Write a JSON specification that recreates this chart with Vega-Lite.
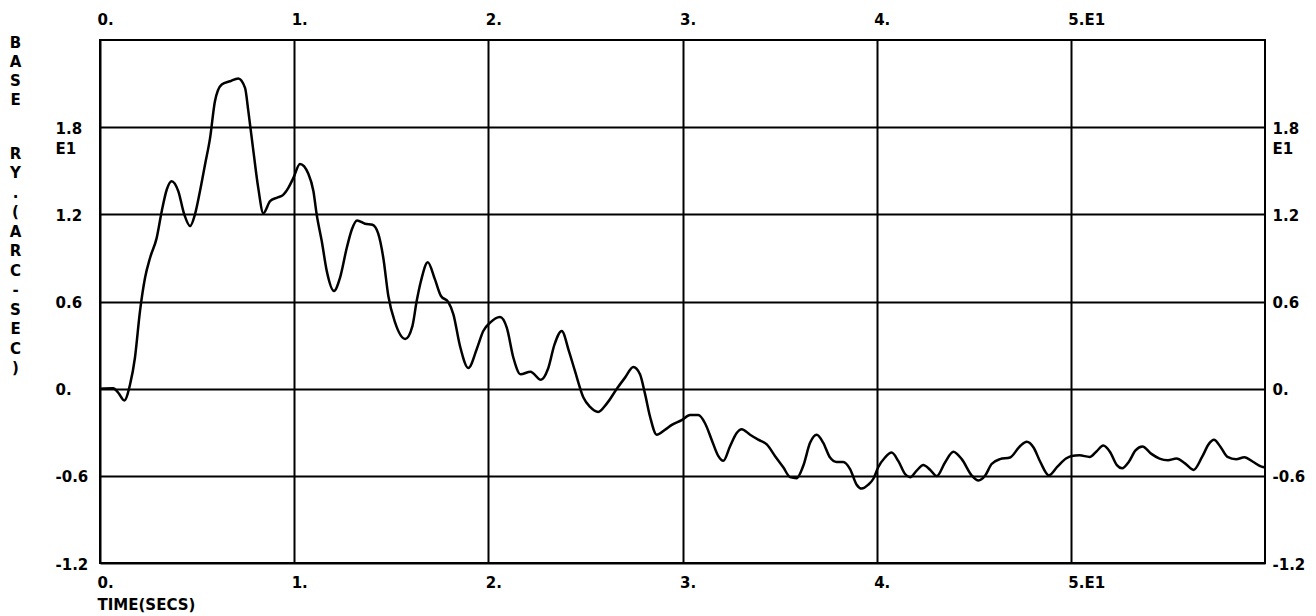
{
  "$schema": "https://vega.github.io/schema/vega-lite/v6.json",
  "width": 1165,
  "height": 523,
  "autosize": {"type": "none"},
  "padding": {"left": 100, "top": 40, "right": 51, "bottom": 53},
  "background": "white",
  "config": {
    "view": {"stroke": "black", "strokeWidth": 2},
    "font": "DejaVu Sans",
    "axis": {
      "labelFont": "DejaVu Sans",
      "labelFontWeight": "bold",
      "labelFontSize": 15,
      "labelColor": "black",
      "titleFont": "DejaVu Sans",
      "titleFontWeight": "bold",
      "titleFontSize": 15,
      "titleColor": "black",
      "domain": false,
      "ticks": false,
      "gridColor": "black",
      "gridOpacity": 1,
      "gridWidth": 2
    }
  },
  "data": {
    "values": [
      {"t": 0.0, "ry": 0.0},
      {"t": 0.068, "ry": 0.003},
      {"t": 0.094, "ry": -0.028},
      {"t": 0.125, "ry": -0.081},
      {"t": 0.155, "ry": 0.03},
      {"t": 0.18, "ry": 0.213},
      {"t": 0.206, "ry": 0.534},
      {"t": 0.232, "ry": 0.763},
      {"t": 0.258, "ry": 0.901},
      {"t": 0.292, "ry": 1.038},
      {"t": 0.318, "ry": 1.222},
      {"t": 0.344, "ry": 1.371},
      {"t": 0.369, "ry": 1.428},
      {"t": 0.403, "ry": 1.36},
      {"t": 0.434, "ry": 1.199},
      {"t": 0.464, "ry": 1.119},
      {"t": 0.489, "ry": 1.199},
      {"t": 0.515, "ry": 1.36},
      {"t": 0.541, "ry": 1.543},
      {"t": 0.567, "ry": 1.726},
      {"t": 0.592, "ry": 1.979},
      {"t": 0.627, "ry": 2.094},
      {"t": 0.67, "ry": 2.116},
      {"t": 0.712, "ry": 2.135},
      {"t": 0.747, "ry": 2.07},
      {"t": 0.764, "ry": 1.91},
      {"t": 0.79, "ry": 1.635},
      {"t": 0.815, "ry": 1.382},
      {"t": 0.841, "ry": 1.208},
      {"t": 0.876, "ry": 1.291},
      {"t": 0.91, "ry": 1.314},
      {"t": 0.942, "ry": 1.332},
      {"t": 0.97, "ry": 1.382},
      {"t": 0.996, "ry": 1.451},
      {"t": 1.03, "ry": 1.547},
      {"t": 1.073, "ry": 1.48},
      {"t": 1.099, "ry": 1.36},
      {"t": 1.116, "ry": 1.199},
      {"t": 1.142, "ry": 1.016},
      {"t": 1.168, "ry": 0.809},
      {"t": 1.205, "ry": 0.672},
      {"t": 1.236, "ry": 0.763},
      {"t": 1.271, "ry": 0.97},
      {"t": 1.297, "ry": 1.096},
      {"t": 1.324, "ry": 1.158},
      {"t": 1.365, "ry": 1.135},
      {"t": 1.403, "ry": 1.128},
      {"t": 1.433, "ry": 1.067},
      {"t": 1.459, "ry": 0.901},
      {"t": 1.485, "ry": 0.638},
      {"t": 1.52, "ry": 0.454},
      {"t": 1.572, "ry": 0.342},
      {"t": 1.609, "ry": 0.431},
      {"t": 1.631, "ry": 0.603},
      {"t": 1.653, "ry": 0.741},
      {"t": 1.688, "ry": 0.871},
      {"t": 1.725, "ry": 0.752},
      {"t": 1.756, "ry": 0.638},
      {"t": 1.794, "ry": 0.596},
      {"t": 1.82, "ry": 0.512},
      {"t": 1.854, "ry": 0.294},
      {"t": 1.897, "ry": 0.142},
      {"t": 1.94, "ry": 0.271},
      {"t": 1.974, "ry": 0.397},
      {"t": 2.009, "ry": 0.454},
      {"t": 2.06, "ry": 0.493},
      {"t": 2.095, "ry": 0.42},
      {"t": 2.129, "ry": 0.213},
      {"t": 2.166, "ry": 0.099},
      {"t": 2.217, "ry": 0.117},
      {"t": 2.271, "ry": 0.061},
      {"t": 2.307, "ry": 0.135},
      {"t": 2.341, "ry": 0.305},
      {"t": 2.378, "ry": 0.397},
      {"t": 2.415, "ry": 0.259},
      {"t": 2.446, "ry": 0.122},
      {"t": 2.489, "ry": -0.059},
      {"t": 2.524, "ry": -0.126},
      {"t": 2.566, "ry": -0.16},
      {"t": 2.61, "ry": -0.103},
      {"t": 2.661, "ry": -0.002},
      {"t": 2.704, "ry": 0.076},
      {"t": 2.747, "ry": 0.149},
      {"t": 2.781, "ry": 0.099},
      {"t": 2.807, "ry": -0.036},
      {"t": 2.833, "ry": -0.193},
      {"t": 2.867, "ry": -0.317},
      {"t": 2.91, "ry": -0.283},
      {"t": 2.945, "ry": -0.249},
      {"t": 2.996, "ry": -0.216},
      {"t": 3.039, "ry": -0.182},
      {"t": 3.081, "ry": -0.182},
      {"t": 3.116, "ry": -0.238},
      {"t": 3.15, "ry": -0.351},
      {"t": 3.184, "ry": -0.463},
      {"t": 3.21, "ry": -0.497},
      {"t": 3.245, "ry": -0.396},
      {"t": 3.279, "ry": -0.305},
      {"t": 3.305, "ry": -0.279},
      {"t": 3.348, "ry": -0.317},
      {"t": 3.39, "ry": -0.351},
      {"t": 3.434, "ry": -0.384},
      {"t": 3.476, "ry": -0.463},
      {"t": 3.519, "ry": -0.541},
      {"t": 3.554, "ry": -0.609},
      {"t": 3.588, "ry": -0.616},
      {"t": 3.622, "ry": -0.531},
      {"t": 3.657, "ry": -0.373},
      {"t": 3.691, "ry": -0.317},
      {"t": 3.725, "ry": -0.373},
      {"t": 3.76, "ry": -0.474},
      {"t": 3.794, "ry": -0.504},
      {"t": 3.828, "ry": -0.504},
      {"t": 3.863, "ry": -0.553},
      {"t": 3.897, "ry": -0.661},
      {"t": 3.923, "ry": -0.688},
      {"t": 3.957, "ry": -0.661},
      {"t": 3.983, "ry": -0.62},
      {"t": 4.008, "ry": -0.541},
      {"t": 4.043, "ry": -0.474},
      {"t": 4.077, "ry": -0.44},
      {"t": 4.111, "ry": -0.497},
      {"t": 4.146, "ry": -0.587},
      {"t": 4.172, "ry": -0.609},
      {"t": 4.206, "ry": -0.564},
      {"t": 4.24, "ry": -0.526},
      {"t": 4.275, "ry": -0.558},
      {"t": 4.309, "ry": -0.602},
      {"t": 4.352, "ry": -0.508},
      {"t": 4.395, "ry": -0.434},
      {"t": 4.438, "ry": -0.485},
      {"t": 4.49, "ry": -0.598},
      {"t": 4.524, "ry": -0.632},
      {"t": 4.559, "ry": -0.598},
      {"t": 4.592, "ry": -0.519},
      {"t": 4.635, "ry": -0.485},
      {"t": 4.687, "ry": -0.474},
      {"t": 4.738, "ry": -0.396},
      {"t": 4.773, "ry": -0.366},
      {"t": 4.808, "ry": -0.405},
      {"t": 4.843, "ry": -0.505},
      {"t": 4.887, "ry": -0.597},
      {"t": 4.931, "ry": -0.537},
      {"t": 4.975, "ry": -0.481},
      {"t": 5.004, "ry": -0.463},
      {"t": 5.045, "ry": -0.459},
      {"t": 5.097, "ry": -0.47},
      {"t": 5.132, "ry": -0.432},
      {"t": 5.167, "ry": -0.392},
      {"t": 5.202, "ry": -0.436},
      {"t": 5.237, "ry": -0.526},
      {"t": 5.264, "ry": -0.548},
      {"t": 5.299, "ry": -0.503},
      {"t": 5.333, "ry": -0.425},
      {"t": 5.369, "ry": -0.398},
      {"t": 5.413, "ry": -0.447},
      {"t": 5.457, "ry": -0.481},
      {"t": 5.5, "ry": -0.492},
      {"t": 5.544, "ry": -0.481},
      {"t": 5.588, "ry": -0.514},
      {"t": 5.632, "ry": -0.559},
      {"t": 5.676, "ry": -0.47},
      {"t": 5.711, "ry": -0.38},
      {"t": 5.737, "ry": -0.352},
      {"t": 5.772, "ry": -0.403},
      {"t": 5.807, "ry": -0.47},
      {"t": 5.851, "ry": -0.486},
      {"t": 5.894, "ry": -0.472},
      {"t": 5.938, "ry": -0.503},
      {"t": 5.982, "ry": -0.537},
      {"t": 6.0, "ry": -0.542}
    ]
  },
  "layer": [
    {
      "mark": {"type": "line", "color": "black", "strokeWidth": 2.5, "interpolate": "monotone"},
      "encoding": {
        "x": {
          "field": "t",
          "type": "quantitative",
          "scale": {"domain": [0, 6], "nice": false, "zero": false},
          "axis": {
            "orient": "bottom",
            "values": [0, 1, 2, 3, 4, 5],
            "grid": true,
            "labelExpr": "datum.value == 5 ? '5.E1' : datum.value + '.'",
            "labelAlign": "left",
            "labelBaseline": "middle",
            "labelOffset": -3,
            "labelPadding": 19,
            "labelFlush": false,
            "title": "TIME(SECS)",
            "titleAnchor": "start",
            "titleAlign": "left",
            "titleBaseline": "middle",
            "titleX": -3,
            "titleY": 41
          }
        },
        "y": {
          "field": "ry",
          "type": "quantitative",
          "scale": {"domain": [-1.2, 2.4], "nice": false, "zero": false},
          "axis": {
            "orient": "left",
            "values": [-1.2, -0.6, 0, 0.6, 1.2, 1.8],
            "grid": true,
            "labelExpr": "datum.value == 1.8 ? ['1.8', 'E1'] : datum.value == 1.2 ? '1.2' : datum.value == 0.6 ? '0.6' : datum.value == 0 ? '0.' : datum.value == -0.6 ? '-0.6' : '-1.2'",
            "labelAlign": "left",
            "labelBaseline": "top",
            "labelOffset": -6,
            "labelLineHeight": 20,
            "labelPadding": 45,
            "labelFlush": false,
            "title": ["B", "A", "S", "E"],
            "titleAngle": 0,
            "titleAlign": "center",
            "titleBaseline": "top",
            "titleLineHeight": 19.3,
            "titleX": -85,
            "titleY": -5
          }
        }
      }
    },
    {
      "mark": {"type": "line", "opacity": 0},
      "encoding": {
        "x": {
          "field": "t",
          "type": "quantitative",
          "axis": {
            "orient": "top",
            "values": [0, 1, 2, 3, 4, 5],
            "grid": false,
            "labelExpr": "datum.value == 5 ? '5.E1' : datum.value + '.'",
            "labelAlign": "left",
            "labelBaseline": "middle",
            "labelOffset": -3,
            "labelPadding": 21,
            "labelFlush": false,
            "title": null
          }
        },
        "y": {
          "field": "ry",
          "type": "quantitative",
          "axis": {
            "orient": "right",
            "values": [-1.2, -0.6, 0, 0.6, 1.2, 1.8],
            "grid": false,
            "labelExpr": "datum.value == 1.8 ? ['1.8', 'E1'] : datum.value == 1.2 ? '1.2' : datum.value == 0.6 ? '0.6' : datum.value == 0 ? '0.' : datum.value == -0.6 ? '-0.6' : '-1.2'",
            "labelAlign": "left",
            "labelBaseline": "top",
            "labelOffset": -6,
            "labelLineHeight": 20,
            "labelPadding": 7,
            "labelFlush": false,
            "title": ["R", "Y", ".", "(", "A", "R", "C", "-", "S", "E", "C", ")"],
            "titleAngle": 0,
            "titleAlign": "center",
            "titleBaseline": "top",
            "titleLineHeight": 19.5,
            "titleX": -1250,
            "titleY": 106
          }
        }
      }
    }
  ],
  "resolve": {"axis": {"x": "independent", "y": "independent"}}
}
